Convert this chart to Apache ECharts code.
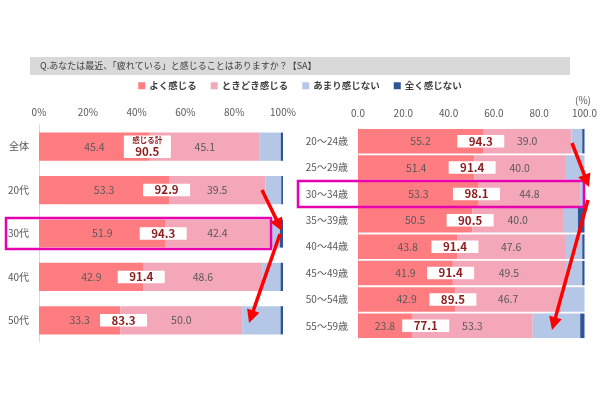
<!DOCTYPE html>
<html><head><meta charset="utf-8">
<script src="https://cdn.jsdelivr.net/npm/echarts@6/dist/echarts.min.js"></script>
<style>html,body{margin:0;padding:0;background:#fff}#c{width:600px;height:400px}</style>
</head><body><div id="c"></div>
<script>
// ---- data ----
const seriesNames = ['よく感じる', 'ときどき感じる', 'あまり感じない', '全く感じない'];
const leftCats = ['全体', '20代', '30代', '40代', '50代'];
const leftOften = [45.4, 53.3, 51.9, 42.9, 33.3];
const leftSometimes = [45.1, 39.5, 42.4, 48.6, 50.0];
const leftRarely = [8.6, 6.5, 4.4, 7.5, 15.7];
const leftNever = [0.9, 0.7, 1.3, 1.0, 1.0];
const leftTotal = [90.5, 92.9, 94.3, 91.4, 83.3];
const rightCats = ['20～24歳', '25～29歳', '30～34歳', '35～39歳', '40～44歳', '45～49歳', '50～54歳', '55～59歳'];
const rightOften = [55.2, 51.4, 53.3, 50.5, 43.8, 41.9, 42.9, 23.8];
const rightSometimes = [39.0, 40.0, 44.8, 40.0, 47.6, 49.5, 46.7, 53.3];
const rightRarely = [4.8, 8.6, 1.9, 6.6, 7.6, 7.6, 10.4, 21.0];
const rightNever = [1.0, 0, 0, 2.9, 1.0, 1.0, 0, 1.9];
const rightTotal = [94.3, 91.4, 98.1, 90.5, 91.4, 91.4, 89.5, 77.1];
const leftTickLabels = ['0%', '20%', '40%', '60%', '80%', '100%'];
const rightTickLabels = ['0.0', '20.0', '40.0', '60.0', '80.0', '100.0'];
const titleText = 'Q.あなたは最近、「疲れている」と感じることはありますか？【SA】';
const totalCaption = '感じる計';

// ---- style ----
const FONT = '"Noto Sans CJK JP", "Noto Sans", sans-serif';
const colors = ['#FF7C80', '#F4A7B9', '#B4C7E7', '#2F5597'];
const totalColor = '#8E1B1B';

function bars(gi, arrs, gap) {
  return arrs.map((d, i) => ({
    type: 'bar', name: seriesNames[i], stack: 'g' + gi,
    xAxisIndex: gi, yAxisIndex: gi, data: d,
    barCategoryGap: gap,
    itemStyle: { color: colors[i] },
    label: i < 2 ? {
      show: true, position: 'inside', color: '#595959', fontSize: 10.5, fontFamily: FONT,
      formatter: p => p.value.toFixed(1)
    } : { show: false },
    emphasis: { disabled: true }, silent: true
  }));
}
// total box sits at the end of the red segment, but is kept clear of the red value label
function totals(gi, cats, often, tot) {
  return {
    type: 'scatter', xAxisIndex: gi, yAxisIndex: gi, symbolSize: 1,
    itemStyle: { color: 'rgba(0,0,0,0)', opacity: 1 }, z: 5, silent: true,
    emphasis: { disabled: true },
    data: cats.map((c, i) => [Math.max(often[i] - 1, often[i] / 2 + 18), c]),
    label: {
      show: true, position: 'inside', backgroundColor: '#fff', width: 47, align: 'center',
      padding: [0, 0], fontFamily: FONT, opacity: 1,
      formatter: p => (gi === 0 && p.dataIndex === 0)
        ? '{s|' + totalCaption + '}\n{b|' + tot[p.dataIndex].toFixed(1) + '}'
        : '{b|' + tot[p.dataIndex].toFixed(1) + '}',
      rich: {
        s: { fontSize: 7.5, fontWeight: 'bold', color: totalColor, lineHeight: 10, align: 'center', fontFamily: FONT },
        b: { fontSize: 11.5, fontWeight: 'bold', color: totalColor, lineHeight: 12.5, align: 'center', fontFamily: FONT }
      }
    }
  };
}
function xAx(gi, labels, margin) {
  return {
    type: 'value', gridIndex: gi, position: 'top', min: 0, max: 100, interval: 20,
    axisLine: { show: false }, axisTick: { show: false }, splitLine: { show: false },
    axisLabel: { color: '#595959', fontSize: 10, fontFamily: FONT, margin: margin,
      formatter: v => labels[Math.round(v / 20)] }
  };
}
function yAx(gi, cats) {
  return {
    type: 'category', gridIndex: gi, data: cats, inverse: true,
    axisLine: { show: true, lineStyle: { color: '#D9D9D9', width: 1 } },
    axisTick: { show: false },
    axisLabel: { color: '#595959', fontSize: 10, fontFamily: FONT, margin: 10 }
  };
}
function arrow(x1, y1, x2, y2) {
  const dx = x2 - x1, dy = y2 - y1, L = Math.hypot(dx, dy), ux = dx / L, uy = dy / L;
  const hl = 13, hw = 6.5, bx = x2 - ux * hl, by = y2 - uy * hl;
  return [
    { type: 'line', z: 100, shape: { x1: x1, y1: y1, x2: bx + ux * 2, y2: by + uy * 2 }, style: { stroke: '#FF0000', lineWidth: 3.5 } },
    { type: 'polygon', z: 100, shape: { points: [[x2, y2], [bx - uy * hw, by + ux * hw], [bx + uy * hw, by - ux * hw]] }, style: { fill: '#FF0000' } }
  ];
}

const chart = echarts.init(document.getElementById('c'));
chart.setOption({
  animation: false,
  textStyle: { fontFamily: FONT },
  legend: {
    data: seriesNames, top: 76, left: 'center', icon: 'rect', itemWidth: 7, itemHeight: 7,
    itemGap: 14, itemStyle: { borderWidth: 0 }, selectedMode: false,
    textStyle: { fontSize: 9.5, fontWeight: 'bold', color: '#404040', fontFamily: FONT, padding: [0, 0, 0, -1] }
  },
  grid: [
    { left: 39, width: 244, top: 125, height: 217 },
    { left: 358, width: 229, top: 128, height: 211 }
  ],
  xAxis: [xAx(0, leftTickLabels, 8), xAx(1, rightTickLabels, 10)],
  yAxis: [yAx(0, leftCats), yAx(1, rightCats)],
  series: [
    ...bars(0, [leftOften, leftSometimes, leftRarely, leftNever], '35%'),
    ...bars(1, [rightOften, rightSometimes, rightRarely, rightNever], '7%'),
    totals(0, leftCats, leftOften, leftTotal),
    totals(1, rightCats, rightOften, rightTotal)
  ],
  graphic: [
    { type: 'rect', z: -1, shape: { x: 30, y: 57, width: 540, height: 18 }, style: { fill: '#D9D9D9' } },
    { type: 'text', z: 1, style: { text: titleText, x: 40, y: 66, verticalAlign: 'middle', fontSize: 9, fontFamily: FONT, fill: '#404040' } },
    { type: 'text', z: 1, style: { text: '(%)', x: 583, y: 100, align: 'center', verticalAlign: 'middle', fontSize: 10, fontFamily: FONT, fill: '#595959' } },
    { type: 'rect', z: 90, shape: { x: 6, y: 218, width: 265, height: 31 }, style: { fill: 'none', stroke: '#E800B0', lineWidth: 2.5 } },
    { type: 'rect', z: 90, shape: { x: 298, y: 181, width: 286, height: 26 }, style: { fill: 'none', stroke: '#E800B0', lineWidth: 2.5 } },
    ...arrow(262, 190, 282, 231),
    ...arrow(280, 234, 249, 323),
    ...arrow(572, 143, 589, 187),
    ...arrow(588, 200, 552, 330)
  ]
});
</script>
</body></html>
